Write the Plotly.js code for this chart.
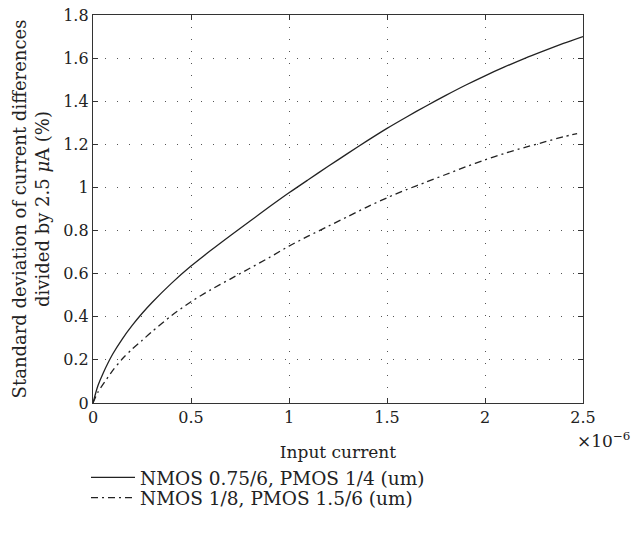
<!DOCTYPE html>
<html>
<head>
<meta charset="utf-8">
<script src="https://cdn.plot.ly/plotly-3.0.1.min.js"></script>
<style>html,body{margin:0;padding:0;background:#fff;}#chart{width:635px;height:538px;}</style>
</head>
<body>
<div id="chart"></div>
<script>
// Input current (units of 1e-6 A)
const xSolid = [0, 0.025, 0.05, 0.1, 0.15, 0.2, 0.25, 0.3, 0.4, 0.5, 0.6, 0.7, 0.8, 0.9, 1.0, 1.1, 1.2, 1.3, 1.4, 1.5, 1.6, 1.7, 1.8, 1.9, 2.0, 2.1, 2.2, 2.3, 2.4, 2.5];
const ySolid = [0, 0.08, 0.135, 0.226, 0.298, 0.36, 0.415, 0.465, 0.555, 0.635, 0.707, 0.776, 0.843, 0.91, 0.975, 1.037, 1.098, 1.158, 1.217, 1.274, 1.327, 1.378, 1.427, 1.474, 1.518, 1.559, 1.598, 1.634, 1.668, 1.70];
const xDash = [0, 0.025, 0.05, 0.1, 0.15, 0.2, 0.25, 0.3, 0.4, 0.5, 0.6, 0.7, 0.8, 0.9, 1.0, 1.1, 1.2, 1.3, 1.4, 1.5, 1.6, 1.7, 1.8, 1.9, 2.0, 2.1, 2.2, 2.3, 2.4, 2.47];
const yDash = [0, 0.05, 0.085, 0.15, 0.205, 0.25, 0.29, 0.33, 0.405, 0.47, 0.525, 0.575, 0.625, 0.675, 0.728, 0.775, 0.82, 0.865, 0.91, 0.952, 0.99, 1.025, 1.06, 1.095, 1.128, 1.158, 1.185, 1.21, 1.235, 1.25];
const seriesNames = ["NMOS 0.75/6, PMOS 1/4 (um)", "NMOS 1/8, PMOS 1.5/6 (um)"];
const xTicks = [0, 0.5, 1, 1.5, 2, 2.5];
const xTickText = ["0", "0.5", "1", "1.5", "2", "2.5"];
const yTicks = [0, 0.2, 0.4, 0.6, 0.8, 1, 1.2, 1.4, 1.6, 1.8];
const yTickText = ["0", "0.2", "0.4", "0.6", "0.8", "1", "1.2", "1.4", "1.6", "1.8"];

const FONT = "DejaVu Serif, Liberation Serif, serif";
const traces = [
  {x: xSolid, y: ySolid, name: seriesNames[0], type: "scatter", mode: "lines",
   line: {color: "#222", width: 1.3, shape: "spline", smoothing: 0.8}, legend: "legend"},
  {x: xDash, y: yDash, name: seriesNames[1], type: "scatter", mode: "lines",
   line: {color: "#222", width: 1.3, shape: "spline", smoothing: 0.8, dash: "7px,4px,2px,4px"}, legend: "legend2"}
];
const axisCommon = {
  showline: true, linecolor: "#333", linewidth: 1.2, mirror: "ticks",
  ticks: "inside", ticklen: 5, tickcolor: "#333", tickwidth: 1,
  showgrid: true, gridcolor: "#555", gridwidth: 1, griddash: "1px,11px",
  zeroline: false, tickfont: {family: FONT, size: 16, color: "#222"}
};
const legendCommon = {xanchor: "left", yanchor: "top", bgcolor: "rgba(0,0,0,0)",
  font: {family: FONT, size: 18.5, color: "#222"}, itemwidth: 44, borderwidth: 0};
const layout = {
  width: 635, height: 538,
  margin: {l: 93, r: 52, t: 15, b: 135},
  paper_bgcolor: "#fff", plot_bgcolor: "#fff",
  font: {family: FONT, color: "#222"},
  showlegend: true,
  legend: Object.assign({}, legendCommon, {x: -0.0143, y: -0.144}),
  legend2: Object.assign({}, legendCommon, {x: -0.0143, y: -0.196}),
  xaxis: Object.assign({}, axisCommon, {
    range: [0, 2.5], tickvals: xTicks, ticktext: xTickText,
    title: {text: "Input current", font: {family: FONT, size: 17, color: "#222"}, standoff: 19}
  }),
  yaxis: Object.assign({}, axisCommon, {
    range: [0, 1.8], tickvals: yTicks, ticktext: yTickText,
    title: {text: "Standard deviation of current differences<br>divided by 2.5 <i>μ</i>A (%)",
      font: {family: FONT, size: 18, color: "#222"}, standoff: 8}
  }),
  annotations: [{
    xref: "paper", yref: "paper", x: 1, y: 0, xanchor: "left", yanchor: "top",
    xshift: -8, yshift: -24, showarrow: false,
    text: "×10<sup>−6</sup>", font: {family: FONT, size: 17, color: "#222"}
  }]
};
Plotly.newPlot("chart", traces, layout, {displayModeBar: false, staticPlot: true});
</script>
</body>
</html>
